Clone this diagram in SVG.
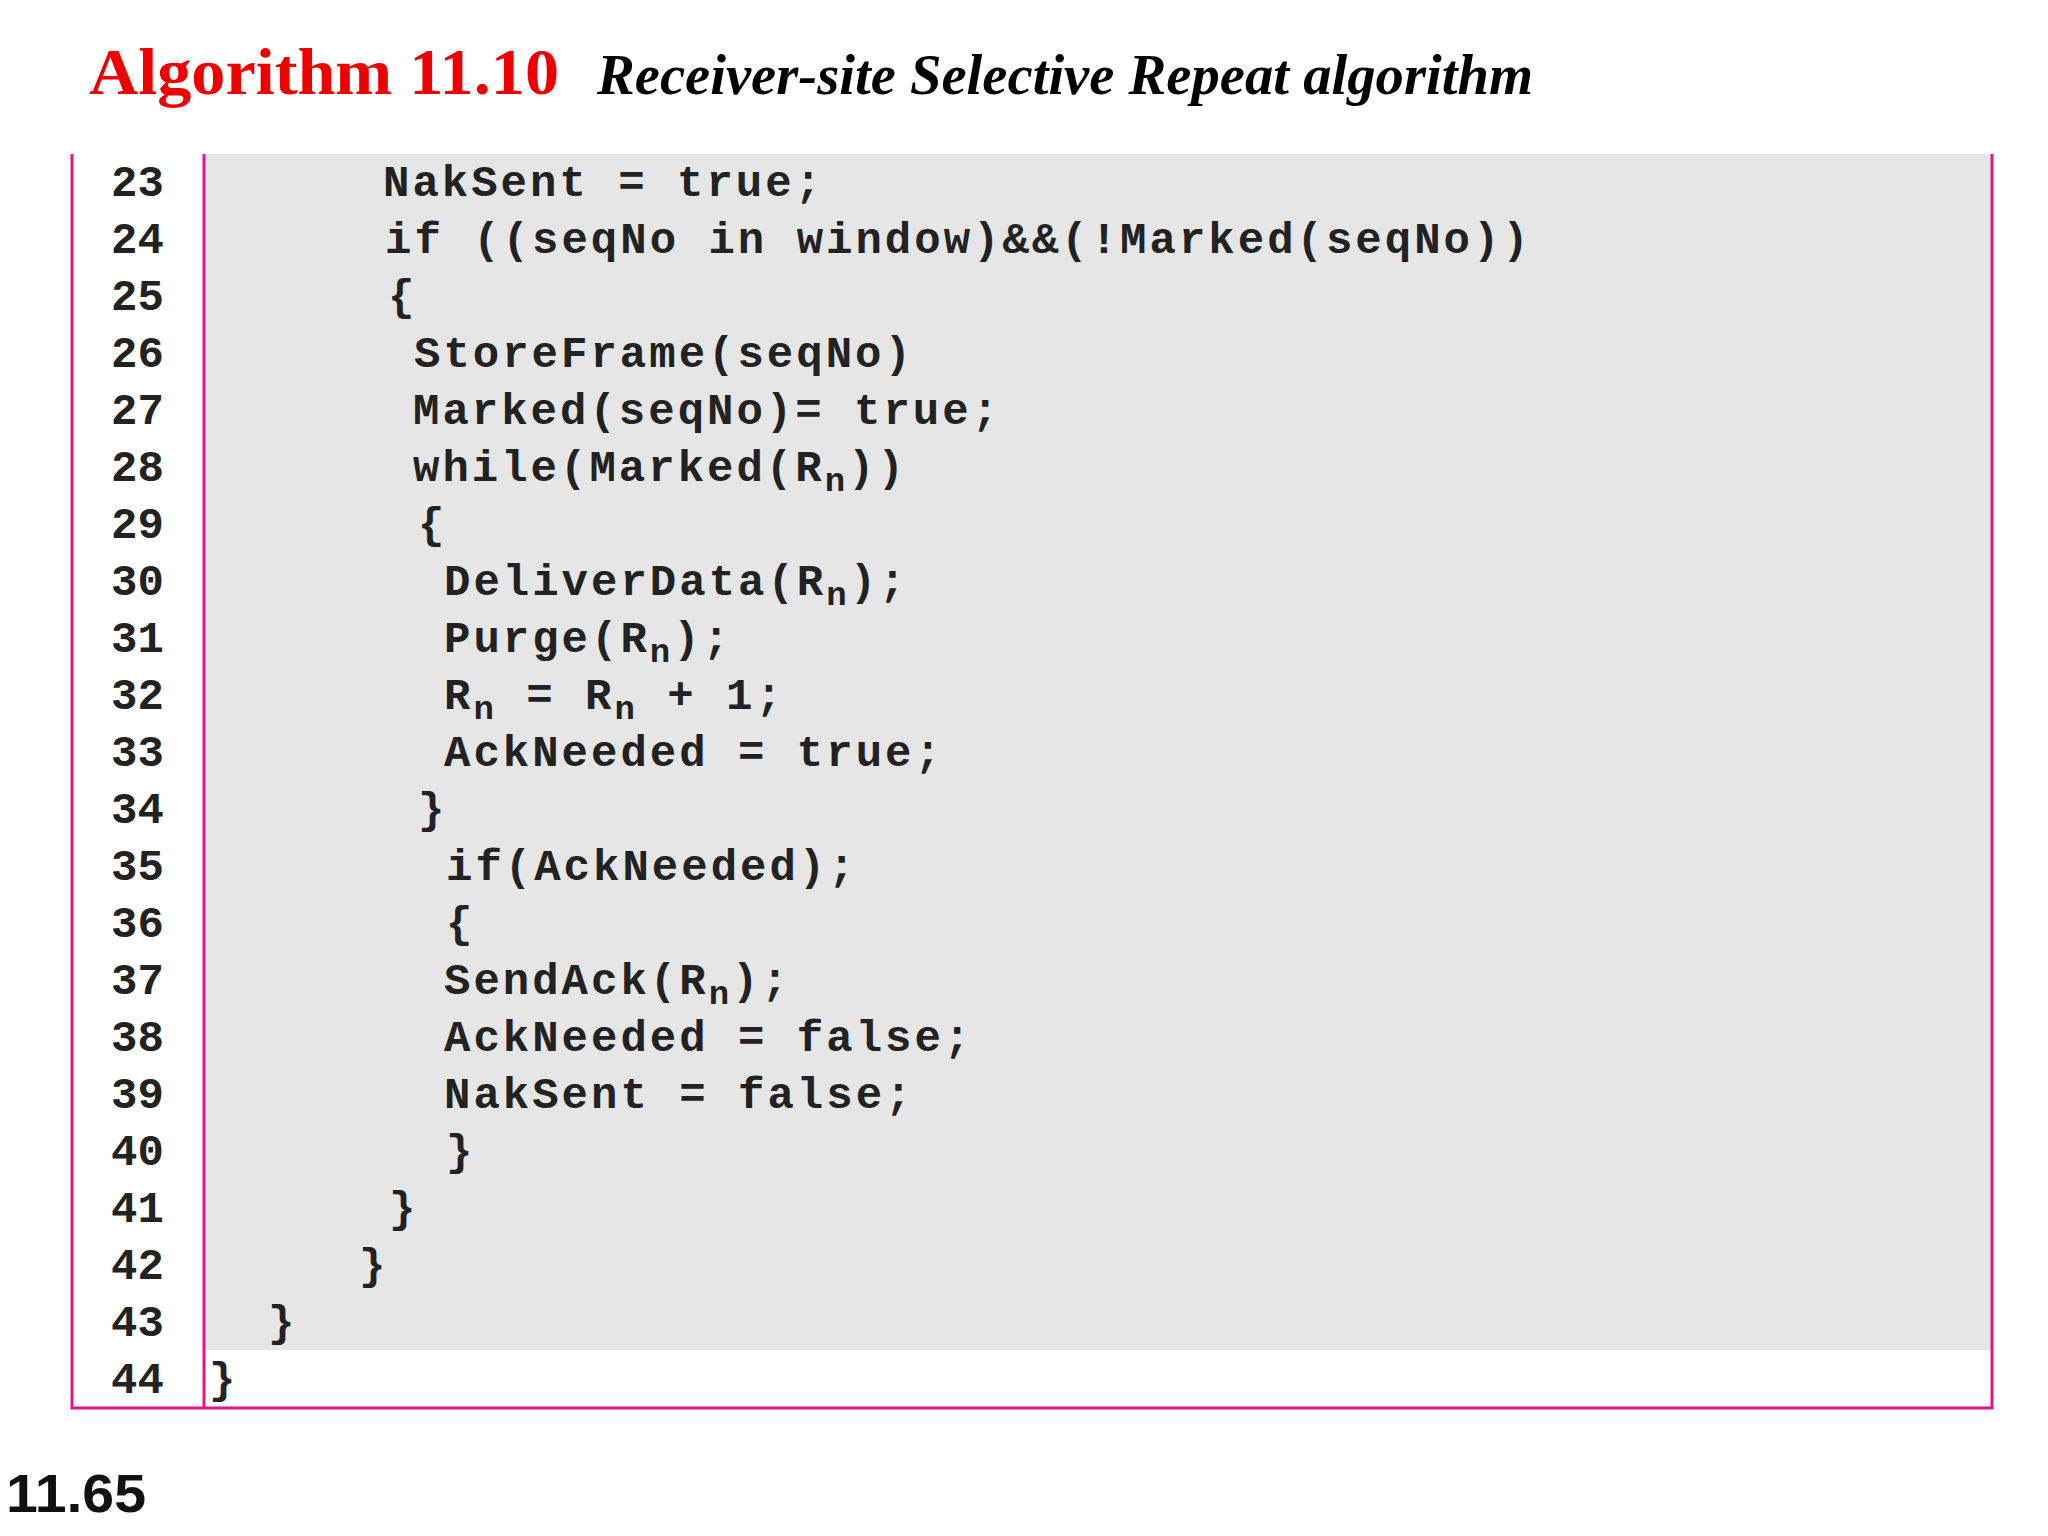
<svg xmlns="http://www.w3.org/2000/svg" width="2048" height="1536" viewBox="0 0 2048 1536">
<style>
.c{font-family:"Liberation Mono","DejaVu Sans Mono",monospace;font-weight:bold;font-size:44px;letter-spacing:3px;fill:#222}
.n{font-family:"Liberation Mono","DejaVu Sans Mono",monospace;font-weight:bold;font-size:44px;letter-spacing:0px;fill:#222}
.s{font-size:34px}
</style>
<rect width="2048" height="1536" fill="#fff"/>
<g id="title">
<text x="89" y="94" font-family="Liberation Serif,serif" font-weight="bold" font-size="66" fill="#e00" textLength="470" lengthAdjust="spacingAndGlyphs">Algorithm 11.10</text>
<text x="597" y="94" font-family="Liberation Serif,serif" font-weight="bold" font-style="italic" font-size="56" fill="#000" textLength="936" lengthAdjust="spacingAndGlyphs">Receiver-site Selective Repeat algorithm</text>
</g>
<g id="box">
<rect x="205" y="154" width="1786" height="1196" fill="#e6e6e6"/>
<path d="M72 154V1408H1992V154M204 154V1408" fill="none" stroke="#e0148c" stroke-width="3"/>
</g>
<g id="linenos" class="n">
<text x="111" y="196">23</text><text x="111" y="253">24</text><text x="111" y="310">25</text><text x="111" y="367">26</text><text x="111" y="424">27</text><text x="111" y="481">28</text><text x="111" y="538">29</text><text x="111" y="595">30</text><text x="111" y="652">31</text><text x="111" y="709">32</text><text x="111" y="766">33</text><text x="111" y="823">34</text><text x="111" y="880">35</text><text x="111" y="937">36</text><text x="111" y="994">37</text><text x="111" y="1051">38</text><text x="111" y="1108">39</text><text x="111" y="1165">40</text><text x="111" y="1222">41</text><text x="111" y="1279">42</text><text x="111" y="1336">43</text><text x="111" y="1393">44</text>
</g>
<g id="code" class="c">
<text x="383" y="196">NakSent = true;</text>
<text x="385" y="253">if ((seqNo in window)&amp;&amp;(!Marked(seqNo))</text>
<text x="388" y="310">{</text>
<text x="414" y="367">StoreFrame(seqNo)</text>
<text x="413" y="424">Marked(seqNo)= true;</text>
<text x="413" y="481">while(Marked(R<tspan class="s" dy="10">n</tspan><tspan dy="-10">))</tspan></text>
<text x="418" y="538">{</text>
<text x="444" y="595">DeliverData(R<tspan class="s" dy="10">n</tspan><tspan dy="-10">);</tspan></text>
<text x="444" y="652">Purge(R<tspan class="s" dy="10">n</tspan><tspan dy="-10">);</tspan></text>
<text x="444" y="709">R<tspan class="s" dy="10">n</tspan><tspan dy="-10"> = R</tspan><tspan class="s" dy="10">n</tspan><tspan dy="-10"> + 1;</tspan></text>
<text x="444" y="766">AckNeeded = true;</text>
<text x="418" y="823">}</text>
<text x="446" y="880">if(AckNeeded);</text>
<text x="446" y="937">{</text>
<text x="444" y="994">SendAck(R<tspan class="s" dy="10">n</tspan><tspan dy="-10">);</tspan></text>
<text x="444" y="1051">AckNeeded = false;</text>
<text x="444" y="1108">NakSent = false;</text>
<text x="446" y="1165">}</text>
<text x="389" y="1222">}</text>
<text x="359" y="1279">}</text>
<text x="268" y="1336">}</text>
<text x="209" y="1393">}</text>
</g>
<text id="page" x="6" y="1512" font-family="Liberation Sans,Arial,sans-serif" font-weight="bold" font-size="54" fill="#111" textLength="140" lengthAdjust="spacingAndGlyphs">11.65</text>
</svg>
